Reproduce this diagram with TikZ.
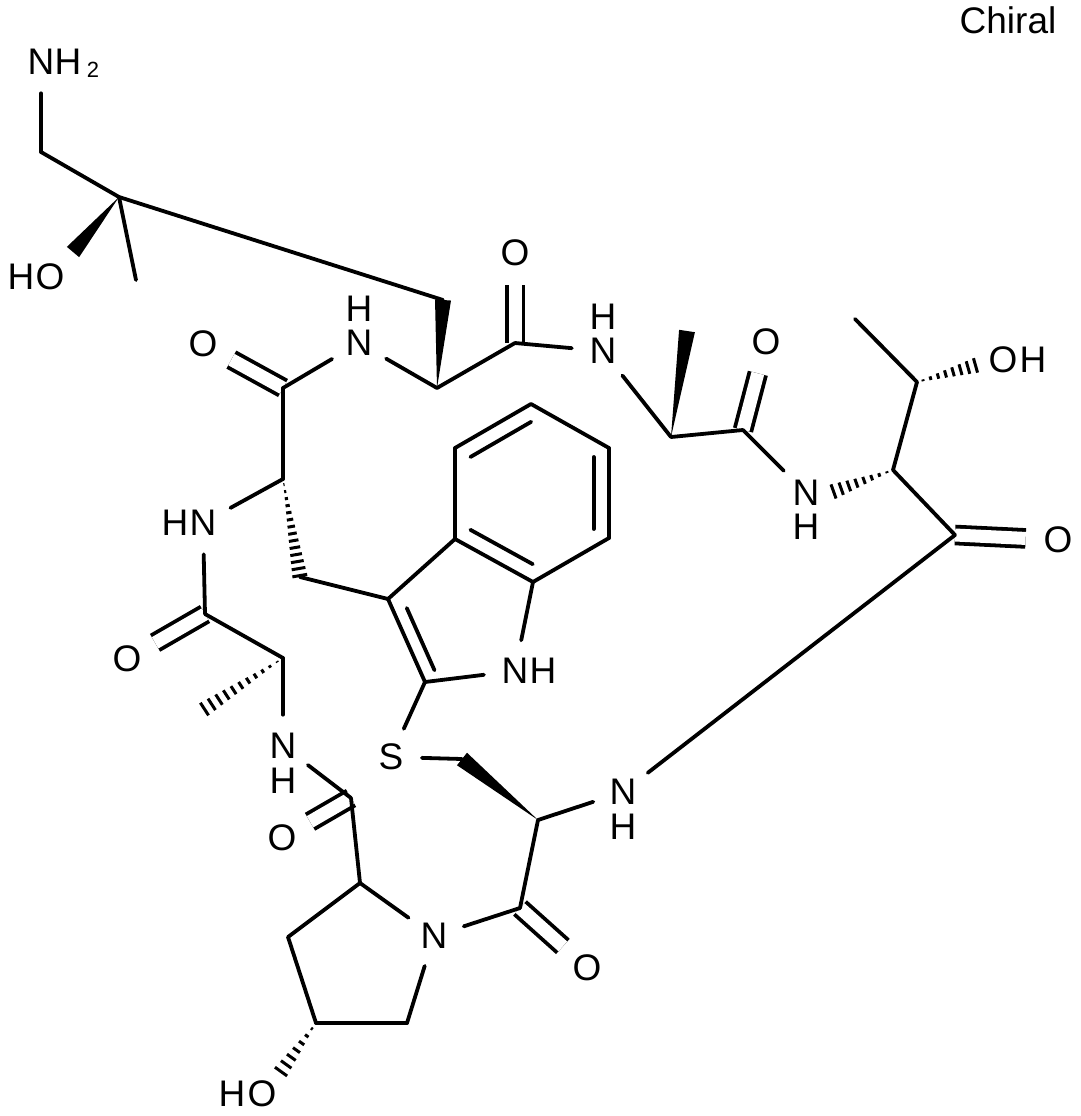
\documentclass[tikz,border=0pt]{standalone}
\usepackage{fontspec}
\setmainfont{Liberation Sans}
\usetikzlibrary{calc}

\tikzset{
  atom/.style={circle, inner sep=9pt, font=\fontsize{37}{44}\selectfont},
  hlab/.style={inner sep=0pt, font=\fontsize{37}{44}\selectfont},
  bond/.style={line width=3.8pt, line cap=round},
  dbond/.style={line width=3.8pt, double distance=13pt, line cap=butt},
  hash/.style={line width=3pt},
}

\begin{document}
\begin{tikzpicture}[x=1pt, y=-1pt]
    \useasboundingbox (0,0) rectangle (1081,1116);

    % ================================================================================================
    % carbon atoms
    % ================================================================================================
    \foreach \n/\x/\y in {c1/41/152, c2/119/197, me1/136/280, who/73/252, ch2a/443/300, ca1/437/388,
                          co1/283/388, co2/515/343, ca2/671/437, me2/687/331, co3/743/430,
                          ca3/893/470, cb/917/382, me3/855/319, ohe/977/365, hne/832/492, co4/955/535,
                          ca4/283/479, ch2c/300/577, co5/205/614, ca5/283/658, me5/203/710,
                          co8/351/798, pc2/360/883, pc3/288/937, pc4/316/1023, pc5/407/1023, hoe/280/1073,
                          co7/520/908, ca6/538/820, ch2b/462/759,
                          ic3/388/599, ic3a/455/539, ic4/455/448, ic5/531/404, ic6/609/448, ic7/609/538,
                          ic7a/533/582, ic2/425/682, bz/532/493, pyr/463/635}
    \coordinate (\n) at (\x,\y);

    % ================================================================================================
    % heteroatoms
    % ================================================================================================
    \foreach \n/\x/\y/\t in {nam/41/62/N, oh1/50/277/O, n1/359/343/N, o1/203/344/O, o2/515/253/O,
                             n2/603/351/N, o3/766/342/O, n3/806/493/N, oh3/1003/360/O, o4/1058/540/O,
                             n4/203/523/N, o5/127/659/O, n5/283/746/N, s/391/757/S, in1/515/671/N,
                             n6/623/792/N, o8/282/838/O, np/434/936/N, o7/587/968/O, oh2/262/1094/O}
    \node [atom] (\n) at (\x,\y) {\t};

    \foreach \n/\dx/\dy in {nam/27/0, oh1/-29/0, n1/0/-34, n2/0/-34, n3/0/34, oh3/30/0,
                            n4/-28/0, n5/0/35, in1/28/0, n6/0/35, oh2/-30/0}
    \node [hlab] at ([shift={(\dx,\dy)}]\n.center) {H};

    \node [hlab, font=\fontsize{22}{26}\selectfont] (sub2) at (93,70) {2};
    \node [hlab] (chiral) at (1008,20) {Chiral};

    % ================================================================================================
    % double bonds
    % ================================================================================================
    \foreach \a/\b in {co1/o1, co2/o2, co3/o3, co4/o4, co5/o5, co8/o8, co7/o7}
    \draw [dbond] (\a) -- (\b);

    \foreach \a/\b/\m/\f in {ic4/ic5/bz/0.2, ic6/ic7/bz/0.2, ic3a/ic7a/bz/0.2, ic3/ic2/pyr/0.25}
    \draw [bond] ($(\a)!\f!(\m)$) -- ($(\b)!\f!(\m)$);

    % ================================================================================================
    % single bonds
    % ================================================================================================
    \foreach \a/\b in {nam/c1, c1/c2, c2/me1, c2/ch2a, n1/co1, n1/ca1, co1/ca4, ca1/co2, co2/n2,
                       n2/ca2, ca2/co3, co3/n3, ca3/cb, cb/me3, ca3/co4, co4/n6,
                       ca4/n4, n4/co5, co5/ca5, ca5/n5, n5/co8, co8/pc2, pc2/np, pc2/pc3,
                       pc3/pc4, pc4/pc5, pc5/np, np/co7, co7/ca6, ca6/n6, s/ch2b, s/ic2, ch2c/ic3,
                       ic3/ic3a, ic3a/ic4, ic4/ic5, ic5/ic6, ic6/ic7, ic7/ic7a, ic7a/ic3a,
                       ic7a/in1, in1/ic2, ic2/ic3}
    \draw [bond] (\a) -- (\b);

    % ================================================================================================
    % wedges
    % ================================================================================================
    \foreach \a/\b in {c2/who, ca1/ch2a, ca2/me2, ca6/ch2b}
    \fill (\a) -- ($(\b)!8pt!90:(\a)$) -- ($(\b)!8pt!-90:(\a)$) -- cycle;

    \foreach \a/\b/\cnt in {ca4/ch2c/14, ca5/me5/11, pc4/hoe/7, ca3/hne/8, cb/ohe/8} {
      \foreach \k in {1,...,\cnt} {
        \pgfmathsetmacro\hpos{(\k-0.2)/\cnt}
        \pgfmathsetmacro\hlen{7.5*\k/\cnt}
        \coordinate (hp) at ($(\a)!\hpos!(\b)$);
        \draw [hash] ($(hp)!\hlen pt!90:(\b)$) -- ($(hp)!\hlen pt!-90:(\b)$);
      }
    }

  \end{tikzpicture}
\end{document}
